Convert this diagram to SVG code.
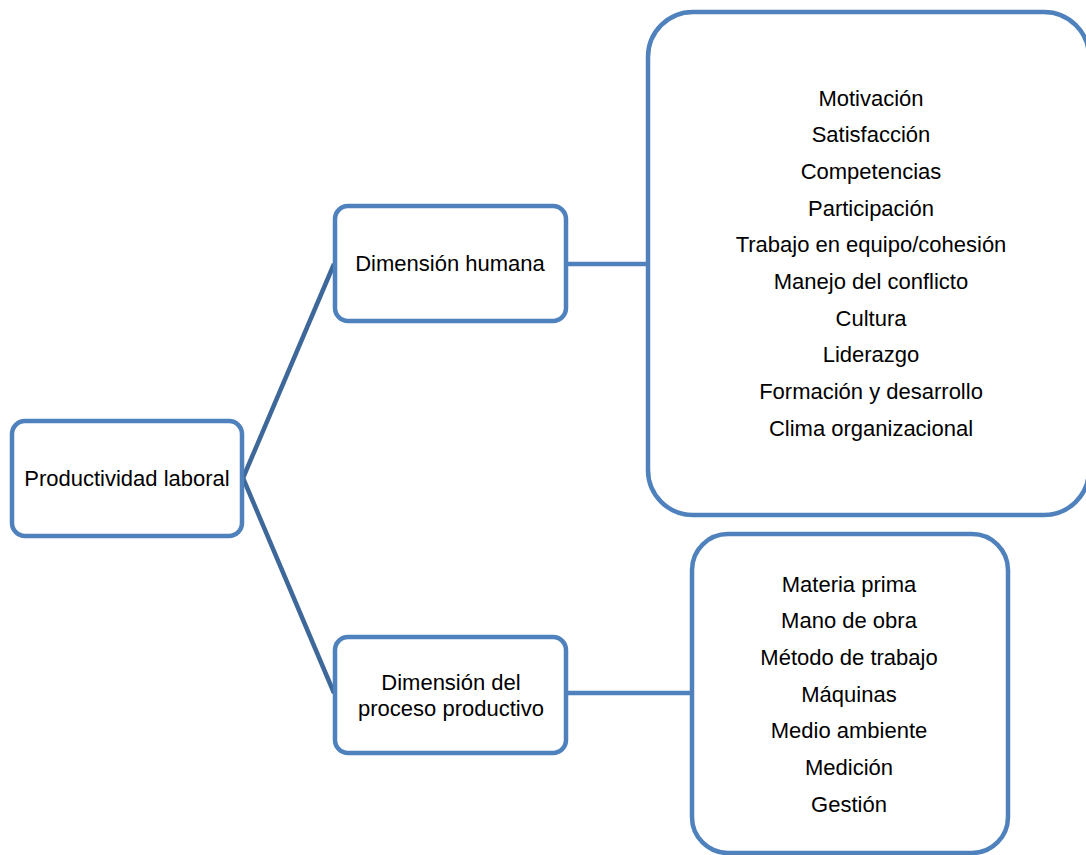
<svg xmlns="http://www.w3.org/2000/svg" width="1086" height="855" viewBox="0 0 1086 855">
<style>
.box{fill:#fff;stroke:#4F81BD;stroke-width:4.5}
.t{font-family:"Liberation Sans",Arial,sans-serif;font-size:22px;fill:#000;text-anchor:middle}
.c1{stroke:#3D6899;stroke-width:4.5;fill:none}
.c2{stroke:#4F81BD;stroke-width:4.5;fill:none}
</style>
<rect width="1086" height="855" fill="#fff"/>
<g id="connectors">
<line class="c1" x1="243" y1="478" x2="334" y2="264"/>
<line class="c1" x1="243" y1="478" x2="334" y2="693"/>
<line class="c2" x1="566" y1="264" x2="648" y2="264"/>
<line class="c2" x1="566" y1="693" x2="692" y2="693"/>
</g>
<g id="productividad">
<rect class="box" x="12" y="421" width="230" height="115" rx="13"/>
<text class="t" x="127" y="486">Productividad laboral</text>
</g>
<g id="humana">
<rect class="box" x="335" y="206" width="231" height="115" rx="13"/>
<text class="t" x="450" y="271">Dimensión humana</text>
</g>
<g id="proceso">
<rect class="box" x="335" y="637" width="231" height="116" rx="13"/>
<text class="t" x="451" y="690">Dimensión del</text>
<text class="t" x="451" y="716">proceso productivo</text>
</g>
<g id="humana-items">
<rect class="box" x="648" y="12" width="441" height="503" rx="45"/>
<text class="t" x="871" y="105.5">Motivación</text>
<text class="t" x="871" y="142.2">Satisfacción</text>
<text class="t" x="871" y="178.9">Competencias</text>
<text class="t" x="871" y="215.5">Participación</text>
<text class="t" x="871" y="252.2">Trabajo en equipo/cohesión</text>
<text class="t" x="871" y="288.8">Manejo del conflicto</text>
<text class="t" x="871" y="325.5">Cultura</text>
<text class="t" x="871" y="362.2">Liderazgo</text>
<text class="t" x="871" y="398.8">Formación y desarrollo</text>
<text class="t" x="871" y="435.5">Clima organizacional</text>
</g>
<g id="proceso-items">
<rect class="box" x="692" y="534" width="316" height="319" rx="36"/>
<text class="t" x="849" y="591.5">Materia prima</text>
<text class="t" x="849" y="628.2">Mano de obra</text>
<text class="t" x="849" y="664.8">Método de trabajo</text>
<text class="t" x="849" y="701.5">Máquinas</text>
<text class="t" x="849" y="738.2">Medio ambiente</text>
<text class="t" x="849" y="774.8">Medición</text>
<text class="t" x="849" y="811.5">Gestión</text>
</g>
</svg>
